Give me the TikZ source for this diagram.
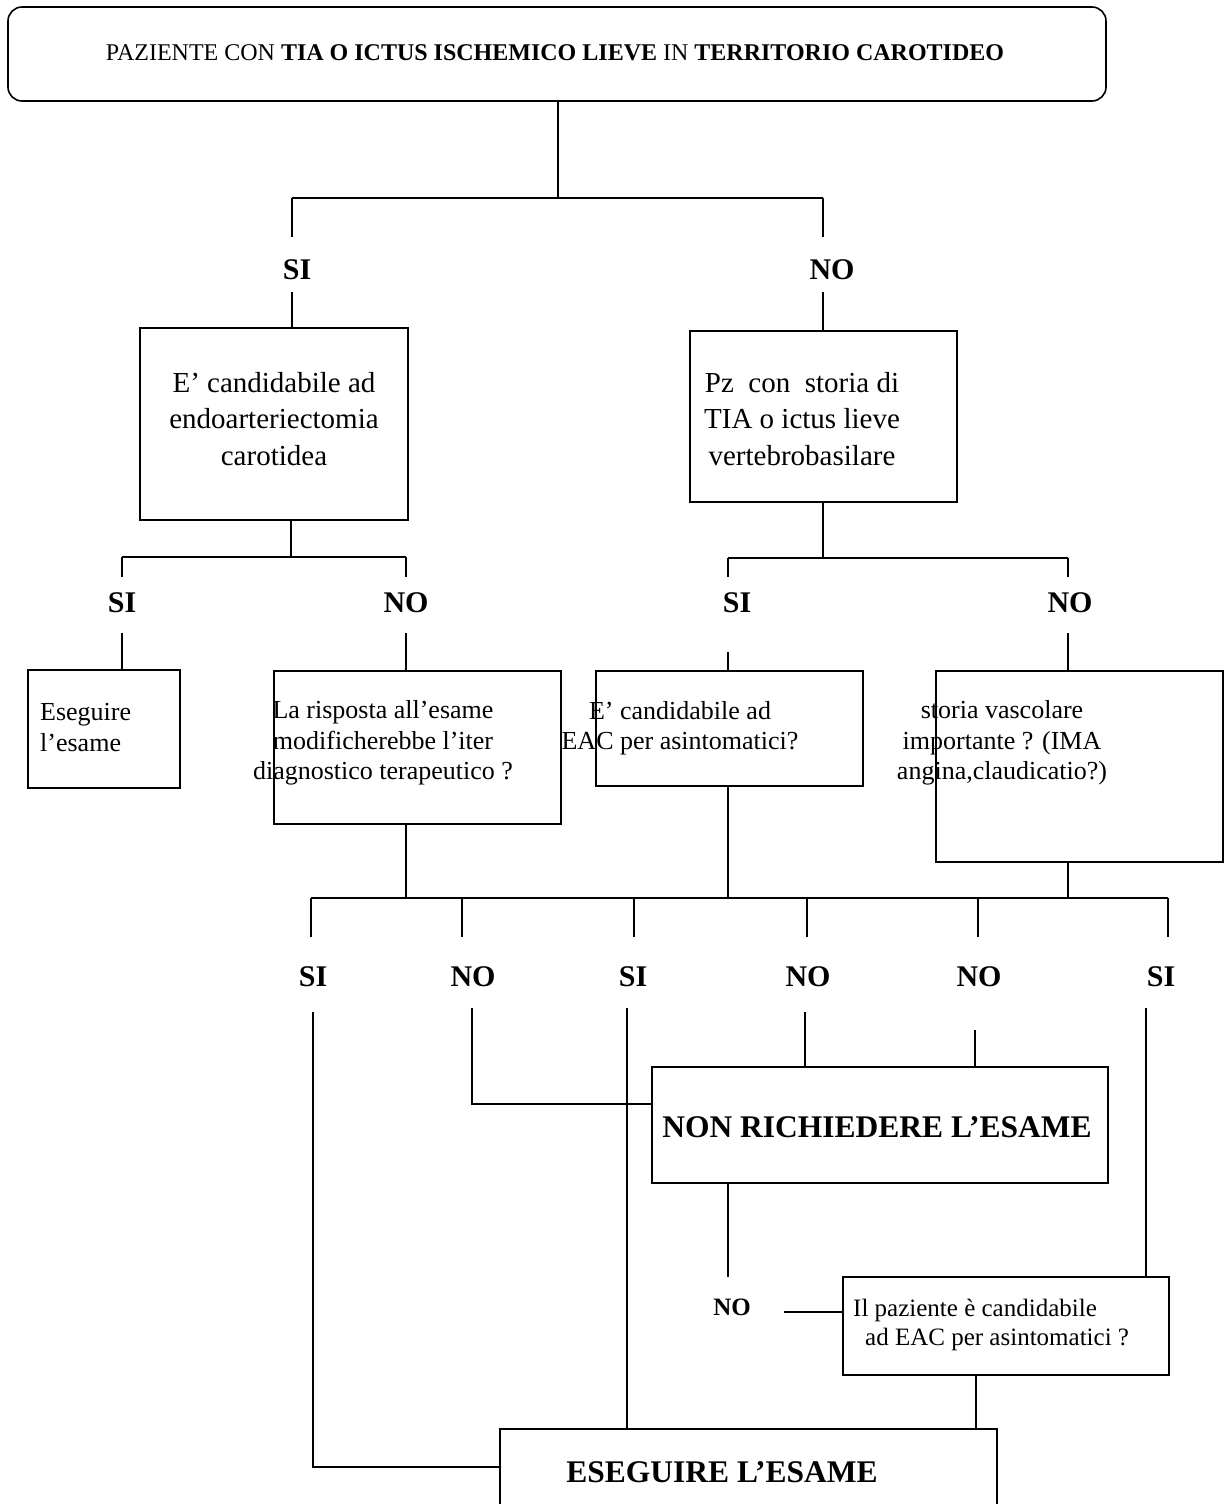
\documentclass[tikz,border=0pt]{standalone}
\usepackage{fontspec}
\setmainfont{Liberation Serif}
\usetikzlibrary{calc}
\begin{document}
\begin{tikzpicture}[x=1pt,y=1pt,
  ln/.style={line width=1.6pt},
  box/.style={draw, line width=1.6pt, inner sep=0pt, outer sep=0pt},
  big/.style={font=\fontsize{29}{36.5}\selectfont, align=center, inner sep=0pt},
  small/.style={font=\fontsize{26}{30.5}\selectfont, inner sep=0pt},
  lab/.style={font=\fontsize{30}{36}\selectfont\bfseries, inner sep=0pt},
  slab/.style={font=\fontsize{25}{30}\selectfont\bfseries, inner sep=0pt},
  heavy/.style={font=\fontsize{31.5}{36}\selectfont\bfseries, inner sep=0pt},
  ]
\useasboundingbox (0,0) rectangle (1225,-1504);
\clip (0,0) rectangle (1225,-1504);
\fill[white] (0,0) rectangle (1225,-1504);

% ---------- boxes ----------
\node[box, rounded corners=14pt, minimum width=1098pt, minimum height=94pt] (T) at (557,-54) {};
\node[box, minimum width=268pt, minimum height=192pt] (A) at (274,-424) {};
\node[box, minimum width=267pt, minimum height=171pt] (B) at (823.5,-416.5) {};
\node[box, minimum width=152pt, minimum height=118pt] (C) at (104,-729) {};
\node[box, minimum width=287pt, minimum height=153pt] (D) at (417.5,-747.5) {};
\node[box, minimum width=267pt, minimum height=115pt] (E) at (729.5,-728.5) {};
\node[box, minimum width=287pt, minimum height=191pt] (F) at (1079.5,-766.5) {};
\node[box, minimum width=456pt, minimum height=116pt] (NON) at (880,-1125) {};
\node[box, minimum width=326pt, minimum height=98pt] (IP) at (1006,-1326) {};
\node[box, minimum width=497pt, minimum height=111pt] (ESE) at (748.5,-1484.5) {};

% ---------- texts ----------
\node[font=\fontsize{24}{28}\selectfont, inner sep=0pt] (tT) at (555,-53)
  {PAZIENTE CON \textbf{TIA O ICTUS ISCHEMICO LIEVE} IN \textbf{TERRITORIO CAROTIDEO}};
\node[big] (tA) at (274,-419) {E’ candidabile ad\\endoarteriectomia\\carotidea};
\node[big] (tB) at (802,-419) {Pz~ con~ storia di\\TIA o ictus lieve\\vertebrobasilare};
\node[small, align=left, anchor=west] (tC) at (40,-727.5) {Eseguire\\l’esame};
\node[small, align=center] (tD) at (383,-743) {La risposta all’esame\\modificherebbe l’iter\\diagnostico terapeutico ?};
\node[small, align=center] (tE) at (680,-728) {E’ candidabile ad\\EAC per asintomatici?};
\node[small, align=center] (tF) at (1002,-743) {storia vascolare\\importante ? (IMA\\angina,claudicatio?)};
\node[heavy] (tNON) at (877,-1127) {NON RICHIEDERE L’ESAME};
\node[font=\fontsize{25}{29}\selectfont, align=left, anchor=west, inner sep=0pt] (tIP) at (853,-1325)
  {Il paziente è candidabile\\\hspace*{12pt}ad EAC per asintomatici ?};
\node[heavy] (tESE) at (722,-1472) {ESEGUIRE L’ESAME};

% ---------- labels ----------
\node[lab] (si1) at (297,-270) {SI};
\node[lab] (no1) at (832,-270) {NO};
\node[lab] (si2) at (122,-603) {SI};
\node[lab] (no2) at (406,-603) {NO};
\node[lab] (si3) at (737,-603) {SI};
\node[lab] (no3) at (1070,-603) {NO};
\node[lab] (si4) at (313,-977) {SI};
\node[lab] (no4) at (473,-977) {NO};
\node[lab] (si5) at (633,-977) {SI};
\node[lab] (no5) at (808,-977) {NO};
\node[lab] (no6) at (979,-977) {NO};
\node[lab] (si6) at (1161,-977) {SI};
\node[slab] (no7) at (732,-1307) {NO};

% ---------- level 1 connectors ----------
\coordinate (j0) at (558,-198);
\coordinate (j0L) at (292,-198);
\coordinate (j0R) at (823,-198);
\draw[ln] (T.south -| j0) -- (j0);
\draw[ln] (j0L) -- (j0R);
\draw[ln] (j0L) -- (292,-237) coordinate (j0La);
\draw[ln] (j0R) -- (823,-237) coordinate (j0Ra);
\draw[ln] (292,-292) coordinate (j0Lb) -- (A.north -| j0Lb);
\draw[ln] (823,-292) coordinate (j0Rb) -- (B.north -| j0Rb);

% ---------- level 2 connectors ----------
\coordinate (j1) at (291,-557);
\coordinate (j1L) at (122,-557);
\coordinate (j1R) at (406,-557);
\draw[ln] (A.south -| j1) -- (j1);
\draw[ln] (j1L) -- (j1R);
\draw[ln] (j1L) -- (122,-577);
\draw[ln] (j1R) -- (406,-577);
\draw[ln] (122,-633) coordinate (c1) -- (C.north -| c1);
\draw[ln] (406,-633) coordinate (d1) -- (D.north -| d1);

\coordinate (j2) at (823,-558);
\coordinate (j2L) at (728,-558);
\coordinate (j2R) at (1068,-558);
\draw[ln] (B.south -| j2) -- (j2);
\draw[ln] (j2L) -- (j2R);
\draw[ln] (j2L) -- (728,-577);
\draw[ln] (j2R) -- (1068,-577);
\draw[ln] (728,-652) coordinate (e1) -- (E.north -| e1);
\draw[ln] (1068,-633) coordinate (f1) -- (F.north -| f1);

% ---------- level 3 connectors ----------
\coordinate (h1) at (311,-898);
\coordinate (h6) at (1168,-898);
\draw[ln] (h1) -- (h6);
\draw[ln] (D.south -| 406,0) -- (406,-898);
\draw[ln] (E.south -| 728,0) -- (728,-898);
\draw[ln] (F.south -| 1068,0) -- (1068,-898);
\foreach \xx in {311,462,634,807,978,1168}
  \draw[ln] (\xx,-898) -- (\xx,-937);

% ---------- bottom connectors ----------
\coordinate (k1a) at (313,-1012);
\coordinate (k1b) at (313,-1467);
\draw[ln] (k1a) -- (k1b) -- (k1b -| ESE.west);
\coordinate (k2a) at (472,-1008);
\coordinate (k2b) at (472,-1104);
\draw[ln] (k2a) -- (k2b) -- (k2b -| NON.west);
\coordinate (k3a) at (627,-1008);
\draw[ln] (k3a) -- (ESE.north -| k3a);
\coordinate (k4a) at (805,-1012);
\draw[ln] (k4a) -- (NON.north -| k4a);
\coordinate (k5a) at (975,-1030);
\draw[ln] (k5a) -- (NON.north -| k5a);
\coordinate (k6a) at (1146,-1008);
\draw[ln] (k6a) -- (IP.north -| k6a);
\coordinate (k7) at (728,-1277);
\draw[ln] (NON.south -| k7) -- (k7);
\coordinate (k8) at (784,-1312);
\draw[ln] (k8) -- (k8 -| IP.west);
\coordinate (k9) at (976,-1400);
\draw[ln] (IP.south -| k9) -- (ESE.north -| k9);
\end{tikzpicture}
\end{document}
